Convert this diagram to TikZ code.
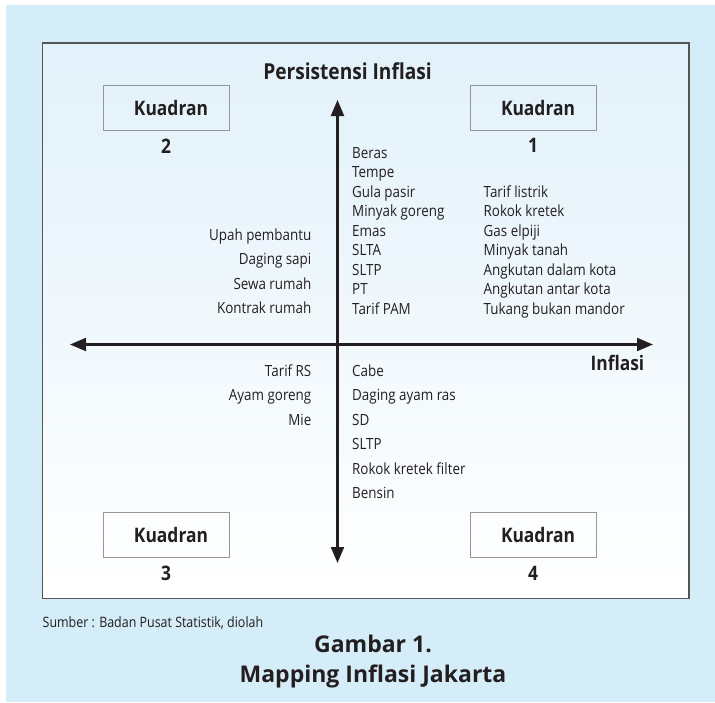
\documentclass[tikz,border=0pt]{standalone}
\usepackage{fontspec}
\setmainfont{Open Sans}
\newfontfamily\condfont{Open Sans}[FakeStretch=0.87]
\usetikzlibrary{positioning, arrows.meta}

\definecolor{latar}{RGB}{213,236,249}
\definecolor{kabut}{RGB}{226,241,250}
\definecolor{tinta}{RGB}{35,31,32}
\definecolor{bingkai}{RGB}{85,85,85}
\definecolor{abu}{RGB}{150,150,150}

\begin{document}
\begin{tikzpicture}[x=1pt, y=-1pt,
    item/.style={font=\condfont\fontsize{15.4}{18}\selectfont, inner sep=0pt, text=tinta},
    kotak/.style={draw=abu, line width=0.9pt, minimum width=126pt, minimum height=45pt, inner sep=0pt,
        font=\condfont\bfseries\fontsize{20}{24}\selectfont, text=tinta, execute at begin node={\hspace*{10pt}}},
    nomor/.style={font=\condfont\bfseries\fontsize{20}{24}\selectfont, inner sep=0pt, text=tinta},
    judul/.style={font=\condfont\bfseries\fontsize{22}{26}\selectfont, inner sep=0pt, text=tinta},
    sumbu/.style={line width=2.2pt, draw=tinta, <->, >={Triangle[length=16pt,width=13pt]}}]

    % Background and frame
    \useasboundingbox (0,0) rectangle (715,702);
    \fill[latar] (6,5) rectangle (715,702);
    \shade[top color=kabut, bottom color=white] (42.5,43) rectangle (689,598.5);
    \draw[bingkai, line width=1.6pt] (42.5,43) rectangle (689,598.5);

    % Draw axes
    \coordinate (kiri) at (70,344.5);
    \coordinate (kanan) at (653,344.5);
    \coordinate (puncak) at (337.5,100);
    \coordinate (dasar) at (337.5,563);
    \draw[sumbu] (kiri) -- (kanan);
    \draw[sumbu] (dasar) -- (puncak);
    \node[judul, anchor=base] (persistensi) at (347.5,79.3) {Persistensi Inflasi};
    \node[nomor, anchor=base east] (inflasi) at (644.5,370.7) {Inflasi};

    % Draw quadrant boxes
    \node[kotak] (k2) at (166,107.5) {Kuadran};
    \node[kotak] (k1) at (533,107.5) {Kuadran};
    \node[kotak] (k3) at (166,535) {Kuadran};
    \node[kotak] (k4) at (533,535) {Kuadran};
    \node[nomor, below=8pt of k2] (n2) {2};
    \node[nomor, below=8pt of k1] (n1) {1};
    \node[nomor, below=8pt of k3] (n3) {3};
    \node[nomor, below=8pt of k4] (n4) {4};

    % Quadrant 2
    \node[item, anchor=base east] (a1) at (311.5,240.5) {Upah pembantu};
    \node[item, anchor=base east] (a2) at (311.5,264.8) {Daging sapi};
    \node[item, anchor=base east] (a3) at (311.5,289.1) {Sewa rumah};
    \node[item, anchor=base east] (a4) at (311.5,313.4) {Kontrak rumah};

    % Upper middle
    \node[item, anchor=base west] (m1) at (352,158) {Beras};
    \node[item, anchor=base west] (m2) at (352,177.6) {Tempe};
    \node[item, anchor=base west] (m3) at (352,197.1) {Gula pasir};
    \node[item, anchor=base west] (m4) at (352,216.7) {Minyak goreng};
    \node[item, anchor=base west] (m5) at (352,236.2) {Emas};
    \node[item, anchor=base west] (m6) at (352,255.8) {SLTA};
    \node[item, anchor=base west] (m7) at (352,275.3) {SLTP};
    \node[item, anchor=base west] (m8) at (352,294.9) {PT};
    \node[item, anchor=base west] (m9) at (352,314.4) {Tarif PAM};

    % Quadrant 1
    \node[item, anchor=base west] (r1) at (483.5,197.1) {Tarif listrik};
    \node[item, anchor=base west] (r2) at (483.5,216.7) {Rokok kretek};
    \node[item, anchor=base west] (r3) at (483.5,236.2) {Gas elpiji};
    \node[item, anchor=base west] (r4) at (483.5,255.8) {Minyak tanah};
    \node[item, anchor=base west] (r5) at (483.5,275.3) {Angkutan dalam kota};
    \node[item, anchor=base west] (r6) at (483.5,294.9) {Angkutan antar kota};
    \node[item, anchor=base west] (r7) at (483.5,314.4) {Tukang bukan mandor};

    % Quadrant 3
    \node[item, anchor=base east] (b1) at (311.5,376.5) {Tarif RS};
    \node[item, anchor=base east] (b2) at (311.5,400.9) {Ayam goreng};
    \node[item, anchor=base east] (b3) at (311.5,425.3) {Mie};

    % Quadrant 4
    \node[item, anchor=base west] (c1) at (352,376.5) {Cabe};
    \node[item, anchor=base west] (c2) at (352,400.9) {Daging ayam ras};
    \node[item, anchor=base west] (c3) at (352,425.3) {SD};
    \node[item, anchor=base west] (c4) at (352,449.7) {SLTP};
    \node[item, anchor=base west] (c5) at (352,474.1) {Rokok kretek filter};
    \node[item, anchor=base west] (c6) at (352,498.5) {Bensin};

    % Labels
    \node[item, font=\condfont\fontsize{14.3}{16}\selectfont, anchor=base west] (sumber) at (42.5,627.3) {Sumber : Badan Pusat Statistik, diolah};
    \node[inner sep=0pt, text=tinta, font=\bfseries\fontsize{23}{27}\selectfont, anchor=base] (gambar) at (373,652.7) {Gambar 1.};
    \node[inner sep=0pt, text=tinta, font=\bfseries\fontsize{23}{27}\selectfont, anchor=base] (mapping) at (373,682.7) {Mapping Inflasi Jakarta};
\end{tikzpicture}
\end{document}
